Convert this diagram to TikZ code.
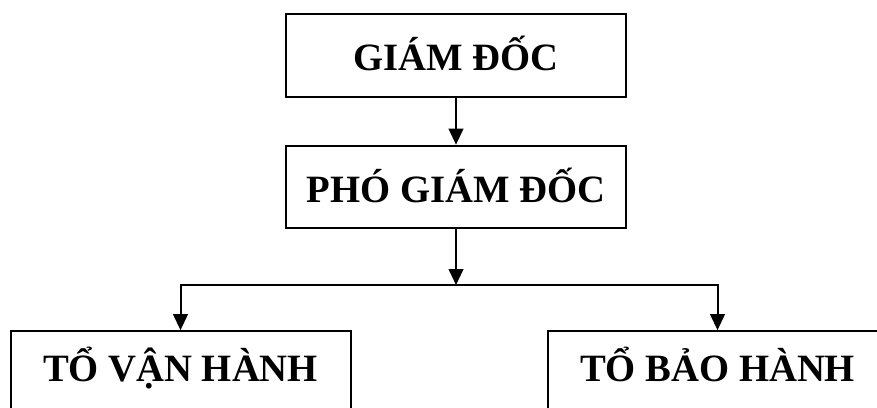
\documentclass[tikz,border=0pt]{standalone}
\usepackage{fontspec}
\setmainfont{Liberation Serif}
\usetikzlibrary{arrows.meta}
\begin{document}
\begin{tikzpicture}[x=0.75pt,y=-0.75pt,
  box/.style={draw,line width=1.5pt,minimum width=255pt,minimum height=62pt,inner sep=0pt,
    text depth=0pt,text height=22.5pt,
    font=\fontsize{29}{34}\selectfont\bfseries},
  lowbox/.style={box,text height=12.8pt},
  conn/.style={line width=1.5pt,-{Triangle[length=12pt,width=11pt]}}]
\useasboundingbox (0,0) rectangle (877,407);
\node[box] (g) at (456,55.5) {GIÁM ĐỐC};
\node[box] (p) at (456,187) {PHÓ GIÁM ĐỐC};
\node[lowbox] (l) at (180.5,372.5) {TỔ VẬN HÀNH};
\node[lowbox] (r) at (717.5,372.5) {TỔ BẢO HÀNH};
\coordinate (j) at (456,285);
\draw[conn] (g) -- (p);
\draw[conn] (p) -- (j);
\draw[conn] (j) -| (l.north);
\draw[conn] (j) -| (r.north);
\end{tikzpicture}
\end{document}
